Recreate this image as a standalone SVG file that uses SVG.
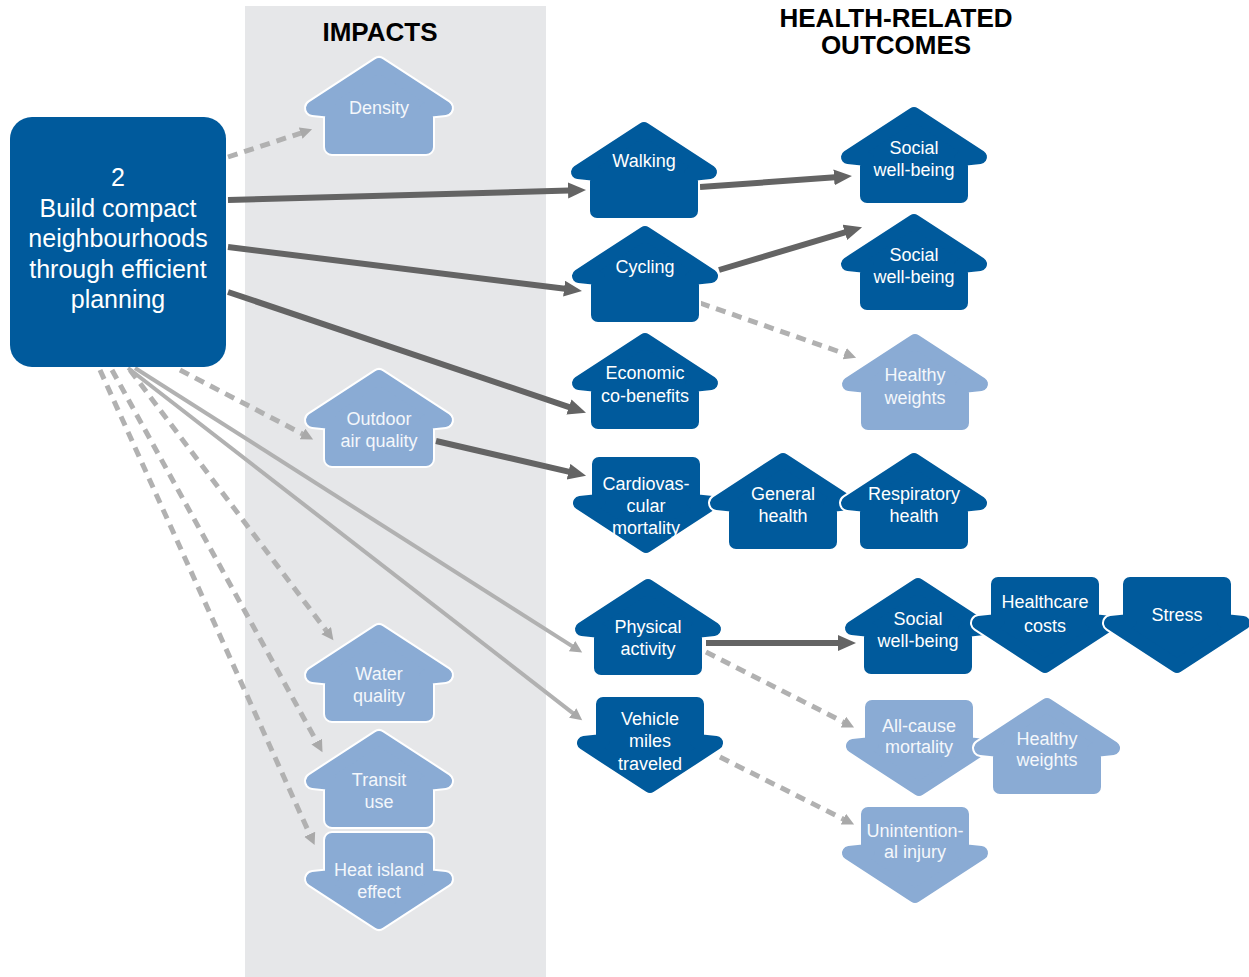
<svg xmlns="http://www.w3.org/2000/svg" xmlns:xlink="http://www.w3.org/1999/xlink" width="1249" height="977" viewBox="0 0 1249 977">
<style>
.halo{fill:#fff;stroke:#fff;stroke-width:18;stroke-linejoin:round}
.dk{fill:#005A9C;stroke:#005A9C;stroke-width:14;stroke-linejoin:round}
.lt{fill:#8AABD4;stroke:#8AABD4;stroke-width:14;stroke-linejoin:round}
.t{font-family:"Liberation Sans",Arial,sans-serif;font-size:18px;text-anchor:middle;fill:#fff}
.tl{font-family:"Liberation Sans",Arial,sans-serif;font-size:18px;text-anchor:middle;fill:#F4F7FB}
.title{font-family:"Liberation Sans",Arial,sans-serif;font-size:26px;font-weight:bold;text-anchor:middle;fill:#000}
.dark{fill:none;stroke:#646464;stroke-width:6;marker-end:url(#ahD)}
.gs{fill:none;stroke:#B1B1B1;stroke-width:4;marker-end:url(#ahG)}
.gd{fill:none;stroke:#B1B1B1;stroke-width:5;stroke-dasharray:10 7;marker-end:url(#ahG)}
</style>
<defs>
<polygon id="up" points="0,7 66,50 47,52 47,89 -47,89 -47,52 -66,50"/>
<polygon id="dn" points="-47,7 47,7 47,44 66,46 0,89 -66,46 -47,44"/>
<marker id="ahD" markerUnits="userSpaceOnUse" markerWidth="20" markerHeight="18" refX="1" refY="8" orient="auto">
<path d="M0,0 L18,8 L0,16 Z" fill="#646464"/>
</marker>
<marker id="ahG" markerUnits="userSpaceOnUse" markerWidth="14" markerHeight="14" refX="1" refY="6" orient="auto">
<path d="M0,0 L12,6 L0,12 Z" fill="#A9A9A9"/>
</marker>
</defs>
<rect x="0" y="0" width="1249" height="977" fill="#fff"/>
<rect x="245" y="6" width="301" height="971" fill="#E6E7E9"/>
<text class="title" x="380" y="41">IMPACTS</text>
<text class="title" x="896" y="27">HEALTH-RELATED</text>
<text class="title" x="896" y="54">OUTCOMES</text>

<g id="connectors">
<path class="dark" d="M228,200 L569,190.5"/>
<path class="dark" d="M228,247 L565.1,288.8"/>
<path class="dark" d="M228,292 L569.9,407.3"/>
<path class="dark" d="M436,441 L569.5,471.9"/>
<path class="dark" d="M700,187 L835,177.3"/>
<path class="dark" d="M719,270 L845.8,232.1"/>
<path class="dark" d="M706,643 L839,643"/>
<path class="gs" d="M135,368 L572.9,646.6"/>
<path class="gs" d="M128,368 L573.5,713.6"/>
<path class="gd" d="M228,157 L301.6,132.8"/>
<path class="gd" d="M180,370 L303.4,434.4"/>
<path class="gd" d="M130,370 L326.8,631.4"/>
<path class="gd" d="M112,370 L317.2,742.5"/>
<path class="gd" d="M100,370 L310.1,835.1"/>
<path class="gd" d="M700,303 L845.7,354"/>
<path class="gd" d="M706,652 L844.3,722.5"/>
<path class="gd" d="M720,757 L844.3,819.6"/>
</g>

<g id="source">
<rect x="10" y="117" width="216" height="250" rx="22" fill="#005A9C"/>
<text class="t" style="font-size:25px" x="118" y="186">2</text>
<text class="t" style="font-size:25px" x="118" y="216.5">Build compact</text>
<text class="t" style="font-size:25px" x="118" y="247">neighbourhoods</text>
<text class="t" style="font-size:25px" x="118" y="277.5">through efficient</text>
<text class="t" style="font-size:25px" x="118" y="308">planning</text>
</g>

<g id="density" transform="translate(379,58)"><use href="#up" class="halo"/><use href="#up" class="lt"/><text class="tl" y="56">Density</text></g>
<g id="outdoor-air" transform="translate(379,370)"><use href="#up" class="halo"/><use href="#up" class="lt"/><text class="tl" y="55">Outdoor</text><text class="tl" y="77">air quality</text></g>
<g id="water" transform="translate(379,625)"><use href="#up" class="halo"/><use href="#up" class="lt"/><text class="tl" y="55">Water</text><text class="tl" y="77">quality</text></g>
<g id="transit" transform="translate(379,731)"><use href="#up" class="halo"/><use href="#up" class="lt"/><text class="tl" y="55">Transit</text><text class="tl" y="77">use</text></g>
<g id="heat-island" transform="translate(379,833)"><use href="#dn" class="halo"/><use href="#dn" class="lt"/><text class="tl" y="43">Heat island</text><text class="tl" y="65">effect</text></g>

<g id="walking" transform="translate(644,122)"><use href="#up" class="halo"/><use href="#up" class="dk"/><text class="t" y="45">Walking</text></g>
<g id="cycling" transform="translate(645,226)"><use href="#up" class="halo"/><use href="#up" class="dk"/><text class="t" y="47">Cycling</text></g>
<g id="economic" transform="translate(645,333)"><use href="#up" class="halo"/><use href="#up" class="dk"/><text class="t" y="46">Economic</text><text class="t" y="69">co-benefits</text></g>
<g id="cardio" transform="translate(646,457)"><use href="#dn" class="halo"/><use href="#dn" class="dk"/><text class="t" y="33">Cardiovas-</text><text class="t" y="55">cular</text><text class="t" y="77">mortality</text></g>
<g id="physical" transform="translate(648,579)"><use href="#up" class="halo"/><use href="#up" class="dk"/><text class="t" y="54">Physical</text><text class="t" y="76">activity</text></g>
<g id="vehicle" transform="translate(650,697)"><use href="#dn" class="halo"/><use href="#dn" class="dk"/><text class="t" y="28">Vehicle</text><text class="t" y="50">miles</text><text class="t" y="73">traveled</text></g>

<g id="social1" transform="translate(914,107)"><use href="#up" class="halo"/><use href="#up" class="dk"/><text class="t" y="47">Social</text><text class="t" y="69">well-being</text></g>
<g id="social2" transform="translate(914,214)"><use href="#up" class="halo"/><use href="#up" class="dk"/><text class="t" y="47">Social</text><text class="t" y="69">well-being</text></g>
<g id="healthy-weights1" transform="translate(915,334)"><use href="#up" class="halo"/><use href="#up" class="lt"/><text class="tl" y="47">Healthy</text><text class="tl" y="70">weights</text></g>
<g id="general-health" transform="translate(783,453)"><use href="#up" class="halo"/><use href="#up" class="dk"/><text class="t" y="47">General</text><text class="t" y="69">health</text></g>
<g id="respiratory" transform="translate(914,453)"><use href="#up" class="halo"/><use href="#up" class="dk"/><text class="t" y="47">Respiratory</text><text class="t" y="69">health</text></g>
<g id="social3" transform="translate(918,578)"><use href="#up" class="halo"/><use href="#up" class="dk"/><text class="t" y="47">Social</text><text class="t" y="69">well-being</text></g>
<g id="healthcare" transform="translate(1045,577)"><use href="#dn" class="halo"/><use href="#dn" class="dk"/><text class="t" y="31">Healthcare</text><text class="t" y="55">costs</text></g>
<g id="stress" transform="translate(1177,577)"><use href="#dn" class="halo"/><use href="#dn" class="dk"/><text class="t" y="44">Stress</text></g>
<g id="all-cause" transform="translate(919,700)"><use href="#dn" class="halo"/><use href="#dn" class="lt"/><text class="tl" y="32">All-cause</text><text class="tl" y="53">mortality</text></g>
<g id="healthy-weights2" transform="translate(1047,698)"><use href="#up" class="halo"/><use href="#up" class="lt"/><text class="tl" y="47">Healthy</text><text class="tl" y="68">weights</text></g>
<g id="unintentional" transform="translate(915,807)"><use href="#dn" class="halo"/><use href="#dn" class="lt"/><text class="tl" y="30">Unintention-</text><text class="tl" y="51">al injury</text></g>
</svg>
